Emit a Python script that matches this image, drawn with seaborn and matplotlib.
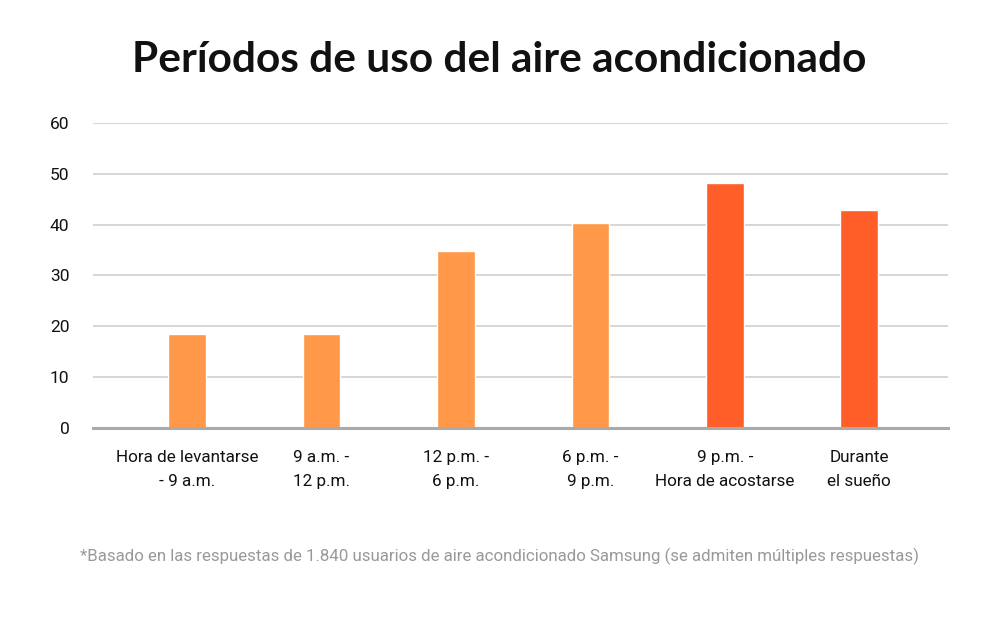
import matplotlib
matplotlib.use("Agg")
import matplotlib.pyplot as plt
import seaborn as sns
import pandas as pd

categories = ["Hora de levantarse\n- 9 a.m.", "9 a.m. -\n12 p.m.", "12 p.m. -\n6 p.m.",
              "6 p.m. -\n9 p.m.", "9 p.m. -\nHora de acostarse", "Durante\nel sueño"]
values = [18.4, 18.4, 34.8, 40.3, 48.2, 42.9]
bar_colors = ["#FF9848", "#FF9848", "#FF9848", "#FF9848", "#FF5E28", "#FF5E28"]
yticks = [0, 10, 20, 30, 40, 50, 60]
title = "Períodos de uso del aire acondicionado"
footnote = "*Basado en las respuestas de 1.840 usuarios de aire acondicionado Samsung (se admiten múltiples respuestas)"

sns.set_theme(style="white")
plt.rcParams["font.family"] = ["Roboto", "DejaVu Sans"]

df = pd.DataFrame({"cat": categories, "val": values})

fig = plt.figure(figsize=(10, 6.23), dpi=100)
ax = fig.add_axes([0.093, 0.313, 0.855, 0.4896])

sns.barplot(data=df, x="cat", y="val", hue="cat", palette=bar_colors, legend=False,
            width=0.28, ax=ax, saturation=1, zorder=3)

ax.set_ylim(0, 60)
ax.set_xlim(-0.70, 5.66)
ax.set_yticks(yticks)
ax.yaxis.grid(True, color="#CCCCCC", linewidth=1.1, zorder=0)
ax.set_axisbelow(True)
for s in ["top", "right", "left"]:
    ax.spines[s].set_visible(False)
ax.spines["bottom"].set_color("#AAAAAA")
ax.spines["bottom"].set_linewidth(2.2)
ax.spines["bottom"].set_zorder(4)
ax.set_xlabel("")
ax.set_ylabel("")
ax.tick_params(axis="y", length=0, pad=17, labelsize=12.5, labelcolor="#111111")
ax.tick_params(axis="x", length=0, pad=16, labelsize=12.3, labelcolor="#111111")
for lab in ax.get_xticklabels():
    lab.set_linespacing(1.75)

fig.text(0.499, 0.903, title, ha="center", va="center", fontsize=30.5,
         fontweight="bold", color="#111111", family=["Lato", "DejaVu Sans"])
fig.text(0.5, 0.107, footnote, ha="center", va="center", fontsize=12.2, color="#999999")

fig.savefig("out.png", dpi=100, facecolor="white")
